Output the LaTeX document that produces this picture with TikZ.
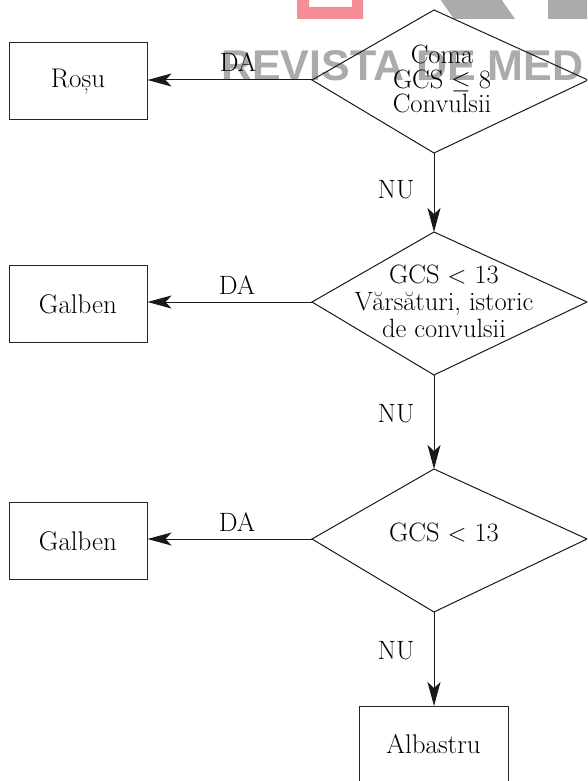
\documentclass[tikz,border=0pt]{standalone}
\usepackage{fontspec}
\newfontfamily\wmfont{Liberation Sans}
\usetikzlibrary{arrows.meta}

\definecolor{wmgray}{RGB}{171,171,171}
\definecolor{wmpink}{RGB}{245,142,150}

\tikzset{
  lbl/.style={font=\fontsize{26.5}{27}\selectfont, inner sep=0pt},
  box/.style={draw=black!85, line width=1pt, minimum width=138pt,
              minimum height=77pt, inner sep=0pt, font=\fontsize{27}{27}\selectfont},
  dtext/.style={align=center, inner sep=0pt, font=\fontsize{26.5}{27}\selectfont},
  dshape/.style={draw=black!90, line width=1pt, line join=miter},
  flow/.style={draw=black!90, line width=1pt,
               -{Stealth[length=24pt,width=13pt,inset=6pt]}},
}

\begin{document}
\begin{tikzpicture}[x=1pt,y=-1pt]
\useasboundingbox (0,0) rectangle (587,781);
\clip (0,0) rectangle (587,781);

% watermark behind the chart
\fill[wmpink, even odd rule] (297,-5) rectangle (363,19) (309,-5) rectangle (352,7);
\fill[wmgray] (440,-1) -- (501,-1) -- (515,19) -- (454,19) -- cycle;
\fill[wmgray] (548,-1) rectangle (592,19);
\node[wmgray, inner sep=0pt, anchor=base west,
      font=\wmfont\bfseries\fontsize{43}{44}\selectfont] (wm) at (221,81) {REVISTA DE MED};

% decision 1
\coordinate (d1t) at (434,10);
\coordinate (d1l) at (312,80);
\coordinate (d1r) at (588,80);
\coordinate (d1b) at (434,153);
\draw[dshape] (d1t) -- (d1r) -- (d1b) -- (d1l) -- cycle;
\node[align=center, inner sep=0pt, font=\fontsize{26.5}{24.5}\selectfont] (q1) at (442,79)
  {Coma\\GCS $\leq$ 8\\Convulsii};

% decision 2
\coordinate (d2t) at (434,232);
\coordinate (d2l) at (312,302);
\coordinate (d2r) at (587,302);
\coordinate (d2b) at (434,375);
\draw[dshape] (d2t) -- (d2r) -- (d2b) -- (d2l) -- cycle;
\node[dtext] (q2) at (444,301) {GCS $<$ 13\\Vărsături, istoric\\de convulsii};

% decision 3
\coordinate (d3t) at (434,469);
\coordinate (d3l) at (312,539);
\coordinate (d3r) at (587,539);
\coordinate (d3b) at (434,612);
\draw[dshape] (d3t) -- (d3r) -- (d3b) -- (d3l) -- cycle;
\node[dtext] (q3) at (444,533) {GCS $<$ 13};

% outcome boxes
\node[box] (rosu)    at (78,81.5) {Roșu};
\node[box] (galben1) at (78,304)  {Galben};
\node[box] (galben2) at (78,541)  {Galben};
\node[box, minimum width=149pt, minimum height=76pt, anchor=north] (albastru)
  at (433.5,706) {Albastru};

% connectors
\draw[flow] (d1l) -- (d1l -| rosu.east);
\draw[flow] (d2l) -- (d2l -| galben1.east);
\draw[flow] (d3l) -- (d3l -| galben2.east);
\draw[flow] (d1b) -- (d2t);
\draw[flow] (d2b) -- (d3t);
\draw[flow] (d3b) -- (albastru.north -| d3b);

% branch labels
\node[lbl] (da1) at (238,62)  {DA};
\node[lbl] (da2) at (237,285) {DA};
\node[lbl] (da3) at (237,522) {DA};
\node[lbl] (nu1) at (396,190) {NU};
\node[lbl] (nu2) at (396,414) {NU};
\node[lbl] (nu3) at (396,651) {NU};
\end{tikzpicture}
\end{document}
